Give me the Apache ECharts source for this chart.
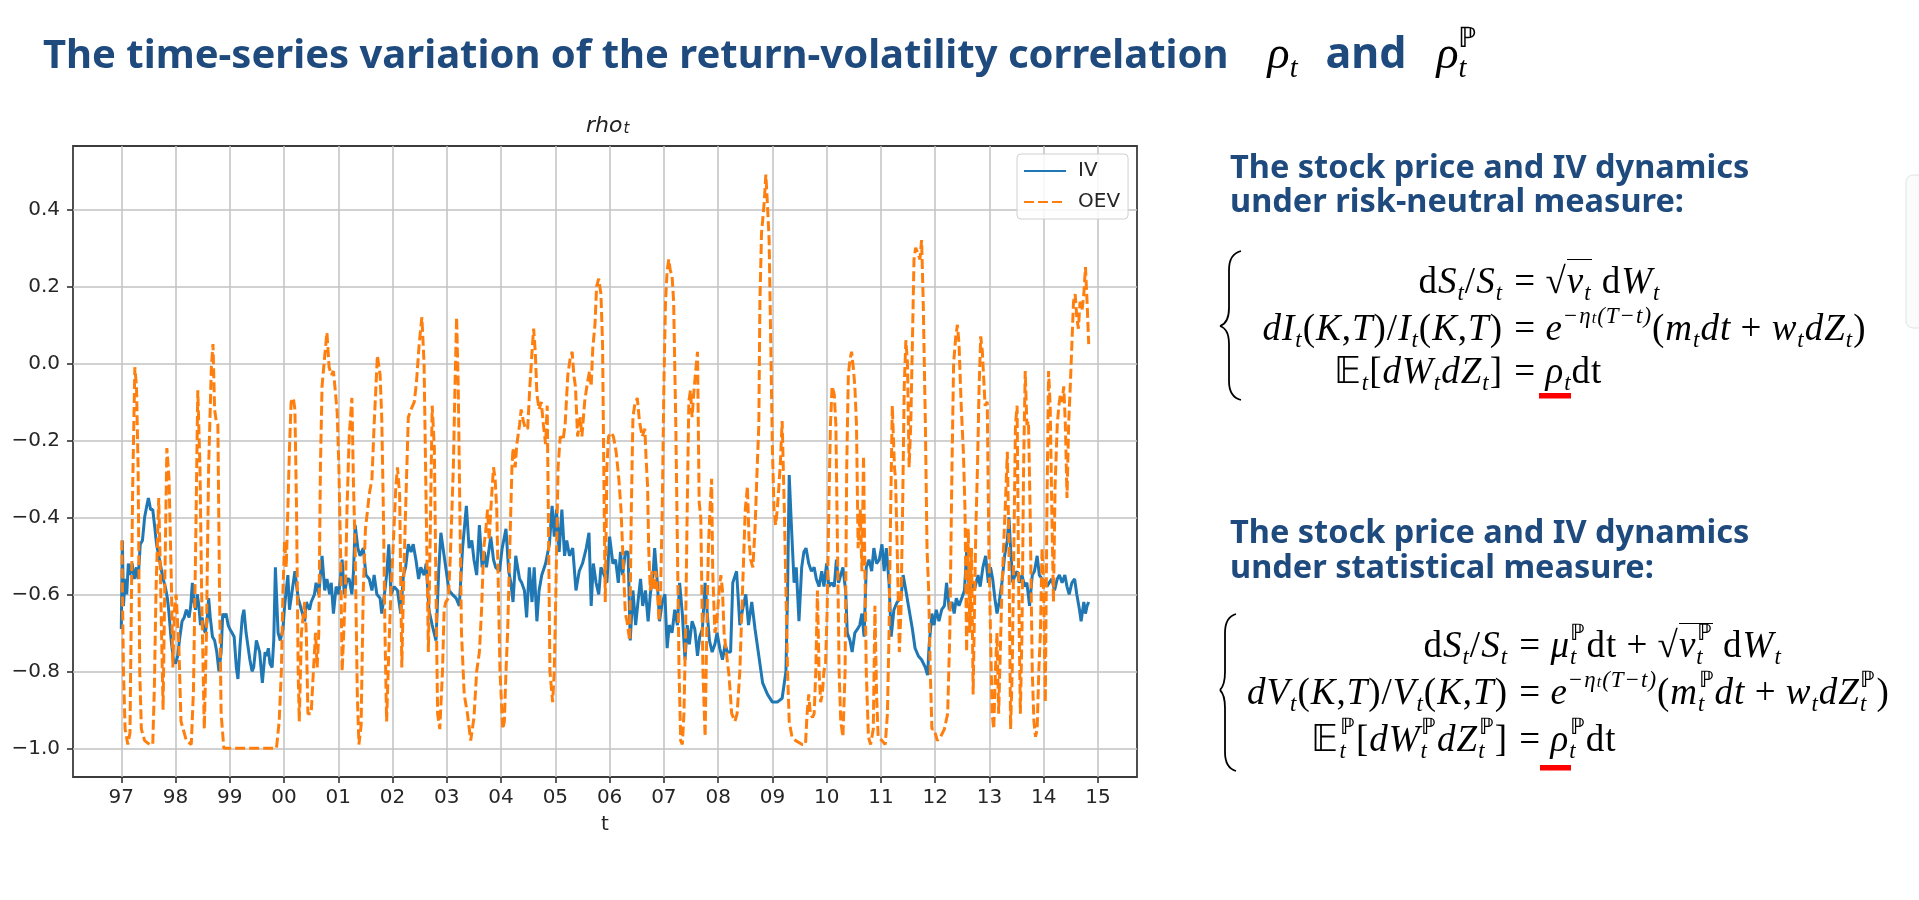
<!DOCTYPE html>
<html>
<head>
<meta charset="utf-8">
<script src="https://cdn.jsdelivr.net/npm/echarts@6/dist/echarts.min.js"></script>
<style>
  body { margin: 0; background: #fff; width: 1919px; height: 900px; overflow: hidden; position: relative; }
  #chart { position: absolute; left: 0; top: 0; width: 1919px; height: 900px; }
  .txt { position: absolute; white-space: nowrap; line-height: 1; z-index: 2; }
  .head { font-family: "Noto Sans", sans-serif; font-weight: 700; color: #1f4a7e; }
  .m { font-family: "Liberation Serif", serif; font-style: italic; font-weight: 400; color: #000; }
  .eq { font-size: 37px; letter-spacing: 1px; }
  .r { font-style: normal; }
  .sb { font-size: 0.62em; position: relative; top: 0.3em; }
  .sp { font-size: 0.62em; position: relative; top: -0.75em; font-style: normal; }
  .k { margin-left: -0.3em; }
  .op { font-style: normal; margin: 0 0.25em; }
  .ol { border-top: 1.5px solid #000; }
  .lhs { text-align: right; }
</style>
</head>
<body>
<div id="chart"></div>

<!-- slide title -->
<div class="txt head" style="font-size:40px;left:43px;top:30px">The time-series variation of the return-volatility correlation<span class="m" style="font-size:46px;margin-left:39px">ρ<span class="sb">t</span></span><span style="margin-left:28px;font-size:43px">and</span><span class="m" style="font-size:46px;margin-left:30px">ρ<span class="sb">t</span><span class="sp k">&#x2119;</span></span></div>

<!-- right column headings -->
<div class="txt head" style="font-size:32.5px;left:1230px;top:150px">The stock price and IV dynamics</div>
<div class="txt head" style="font-size:32.5px;left:1230px;top:184px">under risk-neutral measure:</div>
<div class="txt head" style="font-size:32.5px;left:1230px;top:515px">The stock price and IV dynamics</div>
<div class="txt head" style="font-size:32.5px;left:1230px;top:550px">under statistical measure:</div>

<!-- risk-neutral dynamics -->
<div class="txt m eq lhs" style="right:416px;top:262px"><span class="r">d</span>S<span class="sb">t</span><span class="r">/</span>S<span class="sb">t</span></div>
<div class="txt m eq" style="left:1505px;top:262px"><span class="op">=</span><span class="r">√</span><span class="ol">v<span class="sb">t</span></span> <span class="r">d</span>W<span class="sb">t</span></div>
<div class="txt m eq lhs" style="right:416px;top:309px">dI<span class="sb">t</span><span class="r">(</span>K<span class="r">,</span>T<span class="r">)/</span>I<span class="sb">t</span><span class="r">(</span>K<span class="r">,</span>T<span class="r">)</span></div>
<div class="txt m eq" style="left:1505px;top:309px"><span class="op">=</span>e<span class="sp" style="font-style:italic">−η<span style="font-size:0.7em">t</span>(T−t)</span><span class="r">(</span>m<span class="sb">t</span>dt<span class="op">+</span>w<span class="sb">t</span>dZ<span class="sb">t</span><span class="r">)</span></div>
<div class="txt m eq lhs" style="right:416px;top:352px"><span class="r">&#x1D53C;</span><span class="sb">t</span><span class="r">[</span>dW<span class="sb">t</span>dZ<span class="sb">t</span><span class="r">]</span></div>
<div class="txt m eq" style="left:1505px;top:352px"><span class="op">=</span>ρ<span class="sb">t</span><span class="r">dt</span></div>

<!-- statistical dynamics -->
<div class="txt m eq lhs" style="right:411px;top:626px"><span class="r">d</span>S<span class="sb">t</span><span class="r">/</span>S<span class="sb">t</span></div>
<div class="txt m eq" style="left:1510px;top:626px"><span class="op">=</span>μ<span class="sb">t</span><span class="sp k">&#x2119;</span><span class="r">dt</span><span class="op">+</span><span class="r">√</span><span class="ol">v<span class="sb">t</span><span class="sp k">&#x2119;</span></span> <span class="r">d</span>W<span class="sb">t</span></div>
<div class="txt m eq lhs" style="right:411px;top:673px">dV<span class="sb">t</span><span class="r">(</span>K<span class="r">,</span>T<span class="r">)/</span>V<span class="sb">t</span><span class="r">(</span>K<span class="r">,</span>T<span class="r">)</span></div>
<div class="txt m eq" style="left:1510px;top:673px"><span class="op">=</span>e<span class="sp" style="font-style:italic">−η<span style="font-size:0.7em">t</span>(T−t)</span><span class="r">(</span>m<span class="sb">t</span><span class="sp k">&#x2119;</span>dt<span class="op">+</span>w<span class="sb">t</span>dZ<span class="sb">t</span><span class="sp k">&#x2119;</span><span class="r">)</span></div>
<div class="txt m eq lhs" style="right:411px;top:720px"><span class="r">&#x1D53C;</span><span class="sb">t</span><span class="sp k">&#x2119;</span><span class="r">[</span>dW<span class="sb">t</span><span class="sp k">&#x2119;</span>dZ<span class="sb">t</span><span class="sp k">&#x2119;</span><span class="r">]</span></div>
<div class="txt m eq" style="left:1510px;top:720px"><span class="op">=</span>ρ<span class="sb">t</span><span class="sp k">&#x2119;</span><span class="r">dt</span></div>

<script>
// rho_t 时间序列 (年份, 相关系数)

// IV 曲线
let ivA = [[1997.00,-0.69],[1997.02,-0.46],[1997.04,-0.63],[1997.07,-0.56],[1997.10,-0.60],[1997.13,-0.52],[1997.16,-0.55],[1997.20,-0.52],[1997.24,-0.56],[1997.28,-0.53],[1997.31,-0.56],[1997.35,-0.47],[1997.39,-0.46],[1997.43,-0.40],[1997.47,-0.37],[1997.50,-0.35],[1997.54,-0.38],[1997.58,-0.38],[1997.62,-0.43],[1997.65,-0.47],[1997.69,-0.50],[1997.73,-0.53],[1997.77,-0.56],[1997.81,-0.58],[1997.85,-0.61],[1997.88,-0.65],[1997.92,-0.72],[1997.96,-0.77],[1998.00,-0.78],[1998.04,-0.76],[1998.08,-0.71],[1998.12,-0.67],[1998.16,-0.66],[1998.20,-0.64],[1998.25,-0.66],[1998.28,-0.63],[1998.31,-0.57],[1998.34,-0.62],[1998.37,-0.64],[1998.40,-0.60],[1998.43,-0.63],[1998.46,-0.68],[1998.49,-0.66],[1998.52,-0.69],[1998.55,-0.70],[1998.58,-0.67],[1998.61,-0.61],[1998.64,-0.66],[1998.68,-0.71],[1998.72,-0.72],[1998.76,-0.75],[1998.80,-0.80],[1998.84,-0.75],[1998.87,-0.65],[1998.90,-0.66],[1998.93,-0.65],[1998.97,-0.68],[1999.00,-0.69],[1999.04,-0.70],[1999.08,-0.71],[1999.12,-0.79],[1999.15,-0.82],[1999.19,-0.73],[1999.23,-0.66],[1999.26,-0.64],[1999.30,-0.70],[1999.33,-0.73],[1999.37,-0.77],[1999.41,-0.80],[1999.44,-0.79]];
let ivB = [[1999.49,-0.72],[1999.55,-0.75],[1999.60,-0.83],[1999.65,-0.75],[1999.68,-0.76],[1999.71,-0.74],[1999.74,-0.78],[1999.78,-0.79],[1999.81,-0.72],[1999.84,-0.53],[1999.89,-0.70],[1999.93,-0.72],[1999.98,-0.69],[2000.01,-0.63],[2000.07,-0.55],[2000.10,-0.64],[2000.15,-0.59],[2000.20,-0.54],[2000.26,-0.61],[2000.32,-0.64],[2000.38,-0.67],[2000.41,-0.62],[2000.47,-0.64],[2000.50,-0.62],[2000.56,-0.60],[2000.59,-0.57],[2000.64,-0.60],[2000.70,-0.50],[2000.75,-0.59],[2000.79,-0.56],[2000.84,-0.60],[2000.87,-0.57],[2000.91,-0.65],[2000.96,-0.58],[2001.01,-0.60],[2001.07,-0.51],[2001.11,-0.60],[2001.16,-0.56],[2001.20,-0.56],[2001.25,-0.60],[2001.28,-0.54],[2001.31,-0.42],[2001.36,-0.48],[2001.40,-0.50],[2001.46,-0.48],[2001.51,-0.55],[2001.57,-0.56],[2001.62,-0.59],[2001.66,-0.55],[2001.71,-0.60],[2001.77,-0.61],[2001.80,-0.65],[2001.85,-0.60],[2001.89,-0.55],[2001.93,-0.47],[2001.97,-0.60],[2002.03,-0.58],[2002.09,-0.59],[2002.15,-0.65],[2002.20,-0.55],[2002.24,-0.53],[2002.29,-0.47],[2002.34,-0.49],[2002.38,-0.47],[2002.43,-0.51],[2002.48,-0.56],[2002.52,-0.53],[2002.58,-0.55],[2002.62,-0.52],[2002.67,-0.64],[2002.73,-0.68],[2002.80,-0.72],[2002.85,-0.54],[2002.89,-0.44]];
let ivC = [[2003.04,-0.59],[2003.10,-0.60],[2003.17,-0.61],[2003.23,-0.63],[2003.29,-0.48],[2003.36,-0.37],[2003.41,-0.48],[2003.46,-0.46],[2003.50,-0.51],[2003.55,-0.55],[2003.60,-0.42],[2003.65,-0.53],[2003.69,-0.49],[2003.73,-0.53],[2003.78,-0.48],[2003.81,-0.45],[2003.86,-0.51],[2003.90,-0.53],[2003.97,-0.54],[2004.02,-0.48],[2004.09,-0.43],[2004.14,-0.54],[2004.18,-0.57],[2004.22,-0.62],[2004.27,-0.50],[2004.34,-0.56],[2004.38,-0.57],[2004.43,-0.59],[2004.47,-0.66],[2004.52,-0.53],[2004.57,-0.62],[2004.61,-0.53],[2004.66,-0.67],[2004.70,-0.59],[2004.75,-0.55],[2004.82,-0.52],[2004.89,-0.47],[2004.94,-0.37],[2004.98,-0.45],[2005.02,-0.38],[2005.07,-0.49],[2005.12,-0.38],[2005.17,-0.50],[2005.21,-0.46],[2005.26,-0.50],[2005.32,-0.48],[2005.38,-0.59],[2005.44,-0.54],[2005.50,-0.52],[2005.57,-0.48],[2005.62,-0.44],[2005.66,-0.63],[2005.70,-0.52],[2005.75,-0.57],[2005.80,-0.60],[2005.84,-0.53],[2005.90,-0.55],[2005.95,-0.57],[2006.00,-0.45],[2006.06,-0.52],[2006.11,-0.51]];
let ivD = [[2006.16,-0.57],[2006.20,-0.49],[2006.24,-0.55],[2006.29,-0.49],[2006.34,-0.49],[2006.38,-0.72],[2006.43,-0.59],[2006.48,-0.68],[2006.53,-0.61],[2006.57,-0.56],[2006.61,-0.63],[2006.66,-0.59],[2006.71,-0.67],[2006.75,-0.60],[2006.80,-0.55],[2006.83,-0.48],[2006.88,-0.57],[2006.92,-0.67],[2006.97,-0.62],[2007.02,-0.60],[2007.06,-0.74],[2007.10,-0.68],[2007.15,-0.70],[2007.20,-0.64],[2007.25,-0.68],[2007.29,-0.57],[2007.34,-0.65],[2007.39,-0.77],[2007.43,-0.68],[2007.47,-0.73],[2007.52,-0.67],[2007.57,-0.69],[2007.62,-0.76],[2007.66,-0.71],[2007.71,-0.69],[2007.76,-0.57],[2007.80,-0.65],[2007.84,-0.72],[2007.89,-0.75],[2007.94,-0.73],[2007.98,-0.70],[2008.03,-0.74],[2008.08,-0.77],[2008.13,-0.73],[2008.17,-0.75],[2008.23,-0.75],[2008.27,-0.57],[2008.34,-0.54],[2008.40,-0.68],[2008.45,-0.64],[2008.51,-0.60],[2008.56,-0.68],[2008.62,-0.62],[2008.68,-0.69],[2008.74,-0.75],[2008.82,-0.83],[2008.91,-0.86],[2009.00,-0.88],[2009.09,-0.88],[2009.18,-0.87],[2009.25,-0.80],[2009.28,-0.59],[2009.31,-0.29],[2009.35,-0.42],[2009.40,-0.57],[2009.44,-0.53],[2009.49,-0.67],[2009.54,-0.53],[2009.58,-0.49]];
let ivE = [[2009.62,-0.48],[2009.67,-0.52],[2009.72,-0.54],[2009.77,-0.53],[2009.81,-0.56],[2009.86,-0.58],[2009.91,-0.54],[2009.95,-0.58],[2010.00,-0.52],[2010.04,-0.58],[2010.09,-0.57],[2010.14,-0.58],[2010.18,-0.51],[2010.22,-0.57],[2010.26,-0.55],[2010.30,-0.53],[2010.35,-0.59],[2010.38,-0.70],[2010.43,-0.72],[2010.47,-0.75],[2010.52,-0.70],[2010.57,-0.69],[2010.61,-0.68],[2010.65,-0.65],[2010.69,-0.71],[2010.73,-0.53],[2010.78,-0.51],[2010.83,-0.54],[2010.87,-0.48],[2010.92,-0.52],[2010.97,-0.51],[2011.02,-0.47],[2011.06,-0.54],[2011.10,-0.48],[2011.15,-0.57],[2011.19,-0.71],[2011.24,-0.64],[2011.30,-0.62],[2011.37,-0.61],[2011.41,-0.55],[2011.46,-0.59],[2011.52,-0.64],[2011.58,-0.69],[2011.63,-0.74],[2011.69,-0.76],[2011.75,-0.77],[2011.82,-0.79],[2011.86,-0.81],[2011.89,-0.73],[2011.94,-0.65],[2011.98,-0.68],[2012.02,-0.64],[2012.07,-0.67],[2012.12,-0.64],[2012.17,-0.63],[2012.21,-0.57],[2012.26,-0.64],[2012.31,-0.62],[2012.35,-0.65],[2012.39,-0.61],[2012.44,-0.63],[2012.49,-0.61],[2012.54,-0.59],[2012.58,-0.49],[2012.63,-0.59],[2012.68,-0.57],[2012.72,-0.59]];
let ivF = [[2012.79,-0.55],[2012.83,-0.58],[2012.88,-0.53],[2012.93,-0.50],[2012.98,-0.57],[2013.02,-0.53],[2013.06,-0.56],[2013.10,-0.61],[2013.14,-0.65],[2013.18,-0.62],[2013.23,-0.57],[2013.28,-0.50],[2013.33,-0.46],[2013.36,-0.40],[2013.39,-0.48],[2013.43,-0.57],[2013.47,-0.55],[2013.51,-0.54],[2013.55,-0.57],[2013.60,-0.55],[2013.65,-0.58],[2013.69,-0.57],[2013.74,-0.63],[2013.79,-0.55],[2013.83,-0.54],[2013.88,-0.50],[2013.92,-0.55],[2013.97,-0.56],[2014.02,-0.57],[2014.06,-0.58],[2014.10,-0.57],[2014.15,-0.56],[2014.20,-0.59],[2014.25,-0.56],[2014.29,-0.55],[2014.34,-0.57],[2014.39,-0.55],[2014.43,-0.58],[2014.47,-0.60],[2014.52,-0.57],[2014.57,-0.56],[2014.61,-0.60],[2014.66,-0.64],[2014.69,-0.67],[2014.74,-0.62],[2014.77,-0.65],[2014.80,-0.63],[2014.83,-0.62]];

// OEV 曲线
let oevA = [[1997.01,-0.46],[1997.04,-0.80],[1997.07,-0.95],[1997.12,-0.99],[1997.16,-0.96],[1997.18,-0.70],[1997.21,-0.32],[1997.25,-0.01],[1997.28,-0.06],[1997.31,-0.27],[1997.34,-0.80],[1997.37,-0.95],[1997.43,-0.98],[1997.52,-0.99],[1997.58,-0.99],[1997.61,-0.84],[1997.64,-0.59],[1997.69,-0.35],[1997.72,-0.54],[1997.77,-0.90],[1997.80,-0.59],[1997.84,-0.22],[1997.88,-0.30],[1997.92,-0.55],[1997.95,-0.79],[1997.98,-0.64],[1998.01,-0.60],[1998.06,-0.73],[1998.10,-0.93],[1998.20,-0.98],[1998.29,-0.99],[1998.33,-0.85],[1998.37,-0.48],[1998.41,-0.07],[1998.45,-0.27],[1998.48,-0.59],[1998.53,-0.95],[1998.57,-0.70],[1998.61,-0.27],[1998.66,-0.01],[1998.69,0.05],[1998.72,-0.12],[1998.75,-0.15],[1998.78,-0.16],[1998.81,-0.59],[1998.84,-0.91],[1998.89,-1.00],[1999.20,-1.00],[1999.50,-1.00],[1999.86,-1.00]];
let oevB = [[1999.91,-0.93],[1999.95,-0.80],[1999.98,-0.59],[2000.01,-0.46],[2000.04,-0.53],[2000.07,-0.38],[2000.10,-0.22],[2000.13,-0.10],[2000.17,-0.09],[2000.20,-0.12],[2000.23,-0.38],[2000.26,-0.80],[2000.28,-0.93],[2000.32,-0.70],[2000.38,-0.62],[2000.41,-0.70],[2000.44,-0.91],[2000.50,-0.91],[2000.54,-0.80],[2000.58,-0.70],[2000.61,-0.79],[2000.64,-0.70],[2000.67,-0.27],[2000.70,-0.06],[2000.75,0.02],[2000.79,0.08],[2000.83,-0.01],[2000.87,-0.03],[2000.91,-0.02],[2000.95,-0.08],[2000.98,-0.13],[2001.01,-0.27],[2001.04,-0.48],[2001.07,-0.80],[2001.10,-0.70],[2001.13,-0.59],[2001.16,-0.38],[2001.20,-0.19],[2001.25,-0.09],[2001.28,-0.32],[2001.31,-0.48],[2001.35,-0.86],[2001.38,-0.99],[2001.42,-0.94],[2001.46,-0.59],[2001.50,-0.43],[2001.54,-0.38],[2001.57,-0.34],[2001.62,-0.30],[2001.66,-0.16],[2001.72,0.02],[2001.77,-0.03],[2001.80,-0.14],[2001.83,-0.38],[2001.86,-0.70],[2001.89,-0.93],[2001.93,-0.75],[2001.97,-0.59],[2002.01,-0.48],[2002.06,-0.32],[2002.09,-0.27],[2002.13,-0.34],[2002.17,-0.79],[2002.20,-0.59],[2002.24,-0.38],[2002.29,-0.14],[2002.34,-0.12],[2002.40,-0.10],[2002.44,-0.05],[2002.49,0.05],[2002.54,0.12],[2002.58,0.00],[2002.62,-0.38],[2002.66,-0.75],[2002.69,-0.48],[2002.73,-0.11],[2002.77,-0.22],[2002.80,-0.59],[2002.83,-0.91],[2002.87,-0.95]];
let oevC = [[2002.92,-0.80],[2002.95,-0.64],[2002.98,-0.62],[2003.03,-0.61],[2003.07,-0.48],[2003.12,-0.27],[2003.15,-0.06],[2003.18,0.12],[2003.21,-0.06],[2003.24,-0.38],[2003.27,-0.70],[2003.32,-0.86],[2003.38,-0.91],[2003.44,-0.98],[2003.50,-0.92],[2003.55,-0.80],[2003.60,-0.75],[2003.64,-0.64],[2003.68,-0.48],[2003.72,-0.43],[2003.75,-0.38],[2003.78,-0.46],[2003.81,-0.38],[2003.86,-0.27],[2003.89,-0.30],[2003.92,-0.38],[2003.95,-0.59],[2003.98,-0.80],[2004.03,-0.95],[2004.06,-0.93],[2004.09,-0.80],[2004.12,-0.70],[2004.16,-0.48],[2004.20,-0.27],[2004.22,-0.22],[2004.26,-0.27],[2004.29,-0.21],[2004.34,-0.16],[2004.37,-0.12],[2004.41,-0.15],[2004.45,-0.17],[2004.49,-0.17],[2004.53,-0.06],[2004.57,0.03],[2004.60,0.09],[2004.63,0.03],[2004.66,-0.08],[2004.70,-0.12],[2004.74,-0.10],[2004.78,-0.16],[2004.82,-0.21],[2004.85,-0.11],[2004.87,-0.38],[2004.90,-0.80],[2004.95,-0.88],[2004.98,-0.80],[2005.01,-0.59],[2005.05,-0.27],[2005.09,-0.19],[2005.14,-0.20],[2005.18,-0.16],[2005.23,-0.03],[2005.27,0.01],[2005.31,0.03],[2005.34,-0.03],[2005.37,-0.06],[2005.41,-0.19],[2005.46,-0.14],[2005.49,-0.19],[2005.54,-0.10],[2005.58,-0.06],[2005.63,-0.02],[2005.66,-0.06],[2005.69,0.04],[2005.73,0.10],[2005.76,0.20],[2005.80,0.22],[2005.84,0.18],[2005.87,0.05],[2005.90,-0.38],[2005.92,-0.62],[2005.95,-0.27],[2005.98,-0.19],[2006.03,-0.18],[2006.07,-0.19],[2006.12,-0.23],[2006.17,-0.30],[2006.21,-0.38],[2006.26,-0.55],[2006.29,-0.65]];
let oevD = [[2006.32,-0.67],[2006.37,-0.72],[2006.40,-0.38],[2006.43,-0.14],[2006.46,-0.11],[2006.51,-0.09],[2006.55,-0.15],[2006.60,-0.19],[2006.65,-0.17],[2006.67,-0.24],[2006.70,-0.32],[2006.72,-0.48],[2006.75,-0.59],[2006.78,-0.54],[2006.82,-0.59],[2006.85,-0.54],[2006.88,-0.59],[2006.91,-0.67],[2006.94,-0.59],[2006.97,-0.38],[2007.00,-0.06],[2007.03,0.16],[2007.06,0.24],[2007.09,0.27],[2007.12,0.24],[2007.15,0.23],[2007.18,0.16],[2007.22,-0.16],[2007.25,-0.48],[2007.28,-0.80],[2007.31,-0.98],[2007.34,-0.99],[2007.37,-0.91],[2007.40,-0.70],[2007.43,-0.38],[2007.46,-0.10],[2007.49,-0.07],[2007.52,-0.14],[2007.55,-0.08],[2007.58,-0.03],[2007.62,0.03],[2007.65,-0.36],[2007.68,-0.40],[2007.70,-0.59],[2007.72,-0.80],[2007.76,-0.97],[2007.79,-0.70],[2007.82,-0.48],[2007.85,-0.38],[2007.88,-0.30],[2007.90,-0.54],[2007.94,-0.70],[2007.97,-0.68],[2008.02,-0.59],[2008.05,-0.55],[2008.08,-0.59],[2008.11,-0.70],[2008.15,-0.75],[2008.20,-0.81],[2008.25,-0.91],[2008.31,-0.93],[2008.35,-0.91],[2008.40,-0.80],[2008.45,-0.59],[2008.50,-0.38],[2008.54,-0.32],[2008.57,-0.46],[2008.60,-0.51],[2008.64,-0.53],[2008.68,-0.43],[2008.72,-0.27],[2008.75,-0.16],[2008.77,0.16],[2008.80,0.34],[2008.82,0.37],[2008.85,0.42],[2008.88,0.49],[2008.91,0.41],[2008.94,0.32],[2008.97,0.05],[2009.00,-0.22],[2009.03,-0.38],[2009.06,-0.42],[2009.09,-0.38],[2009.12,-0.32],[2009.15,-0.25],[2009.18,-0.15],[2009.22,-0.38],[2009.25,-0.59],[2009.28,-0.80],[2009.31,-0.93],[2009.36,-0.97],[2009.43,-0.98],[2009.55,-0.99]];
let oevE = [[2009.61,-0.99],[2009.64,-0.91],[2009.67,-0.86],[2009.70,-0.91],[2009.74,-0.92],[2009.77,-0.91],[2009.80,-0.80],[2009.83,-0.59],[2009.86,-0.80],[2009.89,-0.88],[2009.92,-0.86],[2009.95,-0.80],[2009.98,-0.78],[2010.01,-0.64],[2010.04,-0.38],[2010.07,-0.16],[2010.10,-0.06],[2010.14,-0.08],[2010.17,-0.16],[2010.20,-0.48],[2010.23,-0.80],[2010.26,-0.93],[2010.30,-0.97],[2010.34,-0.80],[2010.37,-0.27],[2010.40,-0.03],[2010.43,0.01],[2010.46,0.03],[2010.49,-0.01],[2010.52,-0.06],[2010.55,-0.16],[2010.58,-0.48],[2010.62,-0.38],[2010.65,-0.54],[2010.68,-0.24],[2010.70,-0.48],[2010.73,-0.80],[2010.77,-0.97],[2010.81,-0.99],[2010.86,-0.95],[2010.89,-0.63],[2010.92,-0.86],[2010.95,-0.97],[2011.02,-0.98],[2011.08,-0.99],[2011.12,-0.91],[2011.15,-0.70],[2011.18,-0.38],[2011.21,-0.11],[2011.25,-0.27],[2011.27,-0.30],[2011.30,-0.48],[2011.34,-0.75],[2011.37,-0.64],[2011.40,-0.38],[2011.43,-0.06],[2011.46,0.06],[2011.49,0.00],[2011.52,-0.27],[2011.55,-0.16],[2011.58,0.05],[2011.61,0.27],[2011.64,0.30],[2011.67,0.29],[2011.72,0.27],[2011.75,0.32],[2011.78,0.16],[2011.82,-0.16],[2011.85,-0.48],[2011.88,-0.59],[2011.91,-0.80],[2011.94,-0.95],[2011.98,-0.95],[2012.04,-0.98],[2012.10,-0.97],[2012.17,-0.95],[2012.23,-0.91],[2012.27,-0.70],[2012.31,-0.27],[2012.34,0.00],[2012.38,0.07],[2012.41,0.10],[2012.44,0.05],[2012.48,-0.11],[2012.52,-0.23],[2012.55,-0.38],[2012.58,-0.75],[2012.61,-0.43],[2012.64,-0.70],[2012.67,-0.48],[2012.70,-0.86],[2012.73,-0.59],[2012.75,-0.43],[2012.78,-0.27],[2012.81,-0.06],[2012.84,0.07],[2012.87,0.03],[2012.92,-0.11]];
let oevF = [[2012.96,-0.10],[2012.99,-0.48],[2013.02,-0.70],[2013.05,-0.91],[2013.08,-0.95],[2013.11,-0.80],[2013.14,-0.70],[2013.17,-0.91],[2013.20,-0.75],[2013.23,-0.59],[2013.26,-0.48],[2013.29,-0.38],[2013.33,-0.23],[2013.36,-0.48],[2013.39,-0.95],[2013.42,-0.80],[2013.45,-0.48],[2013.48,-0.16],[2013.51,-0.11],[2013.54,-0.59],[2013.57,-0.91],[2013.60,-0.70],[2013.63,-0.27],[2013.66,-0.02],[2013.69,-0.16],[2013.72,-0.15],[2013.75,-0.38],[2013.79,-0.80],[2013.82,-0.93],[2013.85,-0.97],[2013.88,-0.95],[2013.91,-0.80],[2013.94,-0.70],[2013.97,-0.48],[2014.00,-0.59],[2014.03,-0.88],[2014.06,-0.38],[2014.09,-0.02],[2014.12,-0.11],[2014.15,-0.38],[2014.18,-0.62],[2014.21,-0.32],[2014.25,-0.16],[2014.28,-0.11],[2014.31,-0.08],[2014.34,-0.10],[2014.37,-0.06],[2014.40,-0.16],[2014.43,-0.35],[2014.46,-0.16],[2014.49,-0.06],[2014.52,0.05],[2014.55,0.16],[2014.58,0.18],[2014.61,0.12],[2014.64,0.09],[2014.67,0.16],[2014.71,0.14],[2014.74,0.18],[2014.77,0.25],[2014.80,0.16],[2014.83,0.05]];

// 坐标轴刻度
let xTicks = [1997,1998,1999,2000,2001,2002,2003,2004,2005,2006,2007,2008,2009,2010,2011,2012,2013,2014,2015];
let yTicks = [-1.0,-0.8,-0.6,-0.4,-0.2,0.0,0.2,0.4];

let ivData = ivA.concat(ivB, ivC, ivD, ivE, ivF);
let oevData = oevA.concat(oevB, oevC, oevD, oevE, oevF);

let colors = ['#1f77b4', '#ff7f0e'];
let tickColor = '#262626';
let font = 'DejaVu Sans';

// 大括号：由贝塞尔曲线和竖线拼成
function brace(xTip, xMid, xEnd, yTop, yTip, yBot) {
    let s = { stroke: '#000', fill: null, lineWidth: 1.8 };
    return [
        { type: 'bezierCurve', shape: { x1: xEnd, y1: yTop, cpx1: xMid + 4, cpy1: yTop + 2, cpx2: xMid, cpy2: yTop + 8, x2: xMid, y2: yTop + 19 }, style: s },
        { type: 'line', shape: { x1: xMid, y1: yTop + 19, x2: xMid, y2: yTip - 18 }, style: s },
        { type: 'bezierCurve', shape: { x1: xMid, y1: yTip - 18, cpx1: xMid, cpy1: yTip - 8, cpx2: xMid - 3, cpy2: yTip - 2, x2: xTip, y2: yTip }, style: s },
        { type: 'bezierCurve', shape: { x1: xTip, y1: yTip, cpx1: xMid - 3, cpy1: yTip + 2, cpx2: xMid, cpy2: yTip + 8, x2: xMid, y2: yTip + 18 }, style: s },
        { type: 'line', shape: { x1: xMid, y1: yTip + 18, x2: xMid, y2: yBot - 19 }, style: s },
        { type: 'bezierCurve', shape: { x1: xMid, y1: yBot - 19, cpx1: xMid, cpy1: yBot - 8, cpx2: xMid + 4, cpy2: yBot - 2, x2: xEnd, y2: yBot }, style: s }
    ];
}

let myChart = echarts.init(document.getElementById('chart'));

let option = {
    animation: false,
    color: colors,
    title: {
        text: '{r|rho}{s|t}',
        left: 581,
        top: 104,
        textStyle: {
            rich: {
                r: { fontFamily: font, fontStyle: 'italic', fontWeight: 'normal', fontSize: 22, color: '#222', lineHeight: 28, verticalAlign: 'bottom' },
                s: { fontFamily: font, fontStyle: 'italic', fontWeight: 'normal', fontSize: 15, color: '#222', lineHeight: 16, verticalAlign: 'bottom', padding: [0, 0, 0, 1] }
            }
        }
    },
    legend: {
        orient: 'vertical',
        left: 1017,
        top: 154,
        data: ['IV', 'OEV'],
        itemWidth: 42,
        itemHeight: 18,
        itemGap: 11,
        padding: [7, 8, 7, 6],
        backgroundColor: 'rgba(255,255,255,0.85)',
        borderColor: '#d0d0d0',
        borderWidth: 1,
        borderRadius: 4,
        itemStyle: { opacity: 0 },
        textStyle: { fontFamily: font, fontSize: 20, color: tickColor, padding: [0, 0, 0, 7] }
    },
    grid: {
        left: 73,
        top: 146,
        width: 1064,
        height: 631,
        show: true,
        borderColor: '#3c3c3c',
        borderWidth: 1.8,
        backgroundColor: '#fff',
        outerBoundsMode: 'none'
    },
    xAxis: {
        type: 'value',
        min: 1996.11,
        max: 2015.72,
        name: 't',
        nameLocation: 'middle',
        nameGap: 38,
        nameTextStyle: { fontFamily: font, fontSize: 20, color: tickColor },
        axisLine: { show: false, onZero: false },
        axisTick: { show: true, customValues: xTicks, length: 6, lineStyle: { color: tickColor, width: 1.5 } },
        axisLabel: {
            customValues: xTicks,
            margin: 11,
            fontFamily: font,
            fontSize: 20,
            color: tickColor,
            formatter: function (v) { return String(Math.round(v)).slice(2); }
        },
        splitLine: { show: true, lineStyle: { color: '#c2c2c2', width: 1.5 } }
    },
    yAxis: {
        type: 'value',
        min: -1.0745,
        max: 0.5645,
        axisLine: { show: false, onZero: false },
        axisTick: { show: true, customValues: yTicks, length: 6, lineStyle: { color: tickColor, width: 1.5 } },
        axisLabel: {
            customValues: yTicks,
            margin: 13,
            fontFamily: font,
            fontSize: 20,
            color: tickColor,
            formatter: function (v) { return (v < -1e-9 ? '\u2212' : '') + Math.abs(v).toFixed(1); }
        },
        splitLine: { show: true, lineStyle: { color: '#c2c2c2', width: 1.5 } }
    },
    series: [{
            name: 'IV',
            type: 'line',
            data: ivData,
            symbol: 'none',
            z: 2,
            lineStyle: { color: colors[0], width: 3 },
            itemStyle: { color: colors[0] }
        },
        {
            name: 'OEV',
            type: 'line',
            data: oevData,
            symbol: 'none',
            z: 3,
            lineStyle: { color: colors[1], width: 3, type: [10, 4] },
            itemStyle: { color: colors[1] }
        }
    ],
    graphic: brace(1220, 1229, 1241, 251, 326, 400).concat(brace(1220, 1225, 1236, 614, 690, 771), [
        // 红色下划线
        { type: 'rect', shape: { x: 1539, y: 393, width: 32, height: 5.5 }, style: { fill: '#ff0000' } },
        { type: 'rect', shape: { x: 1540, y: 765, width: 31, height: 5.5 }, style: { fill: '#ff0000' } },
        // 右侧滚动条
        { type: 'rect', shape: { x: 1906, y: 175, width: 24, height: 153, r: 7 }, style: { fill: '#fbfbfb', stroke: '#e2e2e2', lineWidth: 1 } }
    ])
};

myChart.setOption(option);
</script>
</body>
</html>
